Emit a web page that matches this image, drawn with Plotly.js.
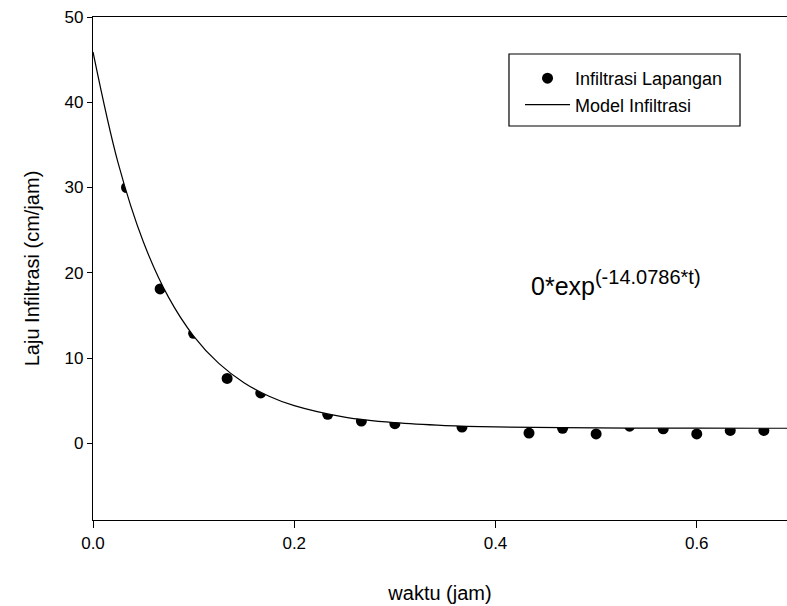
<!DOCTYPE html>
<html>
<head>
<meta charset="utf-8">
<script src="https://cdn.plot.ly/plotly-3.0.1.min.js"></script>
<style>html,body{margin:0;padding:0;background:#fff;}#chart{width:787px;height:606px;}</style>
</head>
<body>
<div id="chart"></div>
<script>
// Field infiltration measurements (waktu in jam, laju in cm/jam)
const waktuLapangan = [0.0333, 0.0667, 0.1, 0.1333, 0.1667, 0.2333, 0.2667, 0.3, 0.3667, 0.4333, 0.4667, 0.5, 0.5333, 0.5667, 0.6, 0.6333, 0.6667];
const lajuLapangan  = [30.0, 18.1, 12.9, 7.6, 5.9, 3.4, 2.6, 2.3, 1.9, 1.2, 1.75, 1.1, 2.0, 1.7, 1.1, 1.5, 1.5];

// Model curve
const waktuModel = [0, 0.025, 0.05, 0.075, 0.1, 0.125, 0.15, 0.175, 0.2, 0.25, 0.3, 0.35, 0.4, 0.5, 0.6, 0.69];
const lajuModel  = [45.9, 32.85, 23.63, 17.14, 12.58, 9.37, 7.11, 5.52, 4.41, 3.07, 2.41, 2.08, 1.92, 1.80, 1.77, 1.76];

const xTicks = [0.0, 0.2, 0.4, 0.6];
const yTicks = [0, 10, 20, 30, 40, 50];
const xRange = [0, 0.6897];
const yRange = [-9, 50];

const FONT = 'Liberation Sans, Arial, sans-serif';

// white mask above the model curve (hides the upper part of the dots, as in the reference)
const maskX = waktuModel.concat([0.8, 0.8, -0.1, -0.1]);
const maskY = lajuModel.concat([lajuModel[lajuModel.length-1], 60, 60, lajuModel[0]]);

const traces = [
  {x: waktuLapangan, y: lajuLapangan, mode: 'markers', type: 'scatter', name: 'Infiltrasi Lapangan',
   marker: {color: '#000', size: 11}, legendgroup: 'a'},
  {x: maskX, y: maskY, mode: 'lines', type: 'scatter', fill: 'toself', fillcolor: '#fff',
   line: {width: 0, shape: 'spline', color: 'rgba(0,0,0,0)'}, showlegend: false, hoverinfo: 'skip'},
  {x: waktuModel, y: lajuModel, mode: 'lines', type: 'scatter', name: 'Model Infiltrasi',
   line: {color: '#000', width: 1.2, shape: 'spline'}, legendgroup: 'b'}
];

const layout = {
  width: 787, height: 606,
  margin: {l: 93, r: 0, t: 17, b: 86},
  paper_bgcolor: '#fff', plot_bgcolor: '#fff',
  font: {family: FONT, size: 17, color: '#000'},
  showlegend: true,
  legend: {x: 0.6153, y: 0.9145, xanchor: 'left', yanchor: 'top', borderwidth: 0,
           bgcolor: 'rgba(0,0,0,0)', font: {family: FONT, size: 18}, tracegroupgap: 0,
           traceorder: 'grouped', itemwidth: 45},
  shapes: [
    {type: 'rect', xref: 'paper', yref: 'paper', x0: 0.5994, x1: 0.9323, y0: 0.7833, y1: 0.9264,
     line: {color: '#000', width: 1.2}, fillcolor: 'rgba(0,0,0,0)', layer: 'above'}
  ],
  xaxis: {range: xRange, tickvals: xTicks, ticktext: xTicks.map(v => v.toFixed(1)),
          showgrid: false, zeroline: false, showline: true, linecolor: '#000', linewidth: 1.2, mirror: true,
          ticks: 'outside', ticklen: 7, tickcolor: '#000', tickfont: {size: 17},
          title: {text: 'waktu (jam)', font: {size: 20}, standoff: 34}},
  yaxis: {range: yRange, tickvals: yTicks, showgrid: false, zeroline: false, showline: true, linecolor: '#000', linewidth: 1.2,
          ticks: 'outside', ticklen: 5, tickcolor: '#000', tickfont: {size: 17},
          title: {text: 'Laju Infiltrasi (cm/jam)', font: {size: 20}, standoff: 19}},
  annotations: [
    {xref: 'x', yref: 'y', x: 0.4332, y: 18.8, xanchor: 'left', yanchor: 'middle', showarrow: false,
     text: '0*exp<sup><span style="font-size:20px">(-14.0786*t)</span></sup>', font: {family: FONT, size: 25, color: '#000'}}
  ]
};

Plotly.newPlot('chart', traces, layout, {displayModeBar: false, staticPlot: true});
</script>
</body>
</html>
